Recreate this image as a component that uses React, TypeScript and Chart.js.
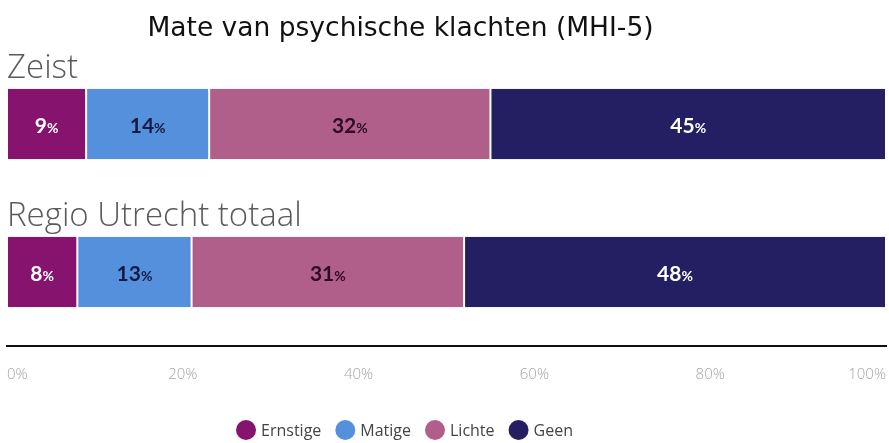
import React, { useEffect, useRef } from "react";
import { Chart, registerables } from "chart.js";

Chart.register(...registerables);

const TITLE = "Mate van psychische klachten (MHI-5)";
const categories = ["Zeist", "Regio Utrecht totaal"];
const seriesNames = ["Ernstige", "Matige", "Lichte", "Geen"];
const ernstige = [9, 8];
const matige = [14, 13];
const lichte = [32, 31];
const geen = [45, 48];
const seriesColors = ["#86146e", "#5590dc", "#b05f8b", "#231f62"];
const labelColors = ["#ffffff", "#141a45", "#2e0a24", "#ffffff"];
const tickValues = [0, 20, 40, 60, 80, 100];

const CENTER_SHIFT = 46;

const titlePlugin = {
  id: "customTitle",
  afterDraw(chart: any) {
    const ctx = chart.ctx;
    const area = chart.chartArea;
    ctx.save();
    ctx.font = "26.5px 'DejaVu Sans'";
    ctx.fillStyle = "#111111";
    ctx.textAlign = "center";
    ctx.textBaseline = "middle";
    ctx.fillText(TITLE, (area.left + area.right) / 2 - CENTER_SHIFT, area.top - 21);
    ctx.restore();
  },
};

const legendPlugin = {
  id: "customLegend",
  afterDraw(chart: any) {
    const ctx = chart.ctx;
    const area = chart.chartArea;
    ctx.save();
    ctx.font = "16px 'Open Sans'";
    const r = 10;
    const gapText = 5;
    const gapItem = 14;
    const widths = seriesNames.map((n) => 2 * r + gapText + ctx.measureText(n).width);
    const total = widths.reduce((a, b) => a + b, 0) + gapItem * (seriesNames.length - 1);
    let x = (area.left + area.right) / 2 - CENTER_SHIFT - total / 2 + 4;
    const y = chart.height - 13;
    seriesNames.forEach((n, i) => {
      ctx.beginPath();
      ctx.fillStyle = seriesColors[i];
      ctx.arc(x + r, y, r, 0, Math.PI * 2);
      ctx.fill();
      ctx.fillStyle = "#444444";
      ctx.textAlign = "left";
      ctx.textBaseline = "middle";
      ctx.fillText(n, x + 2 * r + gapText, y + 1);
      x += widths[i] + gapItem;
    });
    ctx.restore();
  },
};

const labelsPlugin = {
  id: "barLabels",
  afterDatasetsDraw(chart: any) {
    const ctx = chart.ctx;
    const area = chart.chartArea;
    ctx.save();
    const meta0 = chart.getDatasetMeta(0);
    meta0.data.forEach((el: any, i: number) => {
      const top = el.y - el.height / 2;
      ctx.font = "300 33px 'Open Sans'";
      ctx.fillStyle = "#5a5a5a";
      ctx.textAlign = "left";
      ctx.textBaseline = "alphabetic";
      ctx.fillText(categories[i], area.left, top - 11);
    });
    chart.data.datasets.forEach((ds: any, di: number) => {
      const meta = chart.getDatasetMeta(di);
      meta.data.forEach((el: any, i: number) => {
        const v = ds.data[i];
        const cx = (el.x + el.base) / 2;
        const cy = el.y;
        const num = String(v);
        ctx.font = "bold 21px Lato";
        const w1 = ctx.measureText(num).width;
        ctx.font = "bold 14px Lato";
        const w2 = ctx.measureText("%").width;
        const start = cx - (w1 + w2) / 2;
        ctx.fillStyle = labelColors[di];
        ctx.textAlign = "left";
        ctx.textBaseline = "alphabetic";
        ctx.font = "bold 21px Lato";
        ctx.fillText(num, start, cy + 9);
        ctx.font = "bold 14px Lato";
        ctx.fillText("%", start + w1, cy + 9);
      });
    });
    ctx.restore();
  },
};

export default function App() {
  const ref = useRef<HTMLCanvasElement>(null);
  useEffect(() => {
    document.body.style.margin = "0";
    const series = [ernstige, matige, lichte, geen];
    const chart = new Chart(ref.current as HTMLCanvasElement, {
      type: "bar",
      data: {
        labels: categories,
        datasets: seriesNames.map((name, i) => ({
          label: name,
          data: series[i],
          backgroundColor: seriesColors[i],
          borderColor: "#ffffff",
          borderWidth: { left: 1, right: 1, top: 0, bottom: 0 },
          borderSkipped: false,
          barPercentage: 1,
          categoryPercentage: 0.476,
        })),
      },
      options: {
        indexAxis: "y",
        animation: false,
        responsive: false,
        layout: { padding: { top: 50, left: 7, right: 3, bottom: 39 } },
        scales: {
          x: {
            stacked: true,
            min: 0,
            max: 100,
            afterBuildTicks(scale: any) {
              scale.ticks = tickValues.map((v) => ({ value: v }));
            },
            afterFit(scale: any) {
              scale.paddingRight = 0;
              scale.paddingLeft = 0;
            },
            grid: { display: false, drawTicks: false },
            border: { display: true, color: "#111111", width: 2 },
            ticks: {
              padding: 20,
              align: "inner",
              color: "#a6a6a6",
              font: { family: "'Open Sans'", size: 15, weight: "300" },
              maxRotation: 0,
              callback: (v: any) => v + "%",
            },
          },
          y: {
            stacked: true,
            display: false,
          },
        },
        plugins: {
          title: { display: false },
          tooltip: { enabled: false },
          legend: { display: false },
        },
      },
      plugins: [titlePlugin, labelsPlugin, legendPlugin],
    } as any);
    return () => chart.destroy();
  }, []);
  return <canvas ref={ref} width={889} height={443} style={{ display: "block" }} />;
}
